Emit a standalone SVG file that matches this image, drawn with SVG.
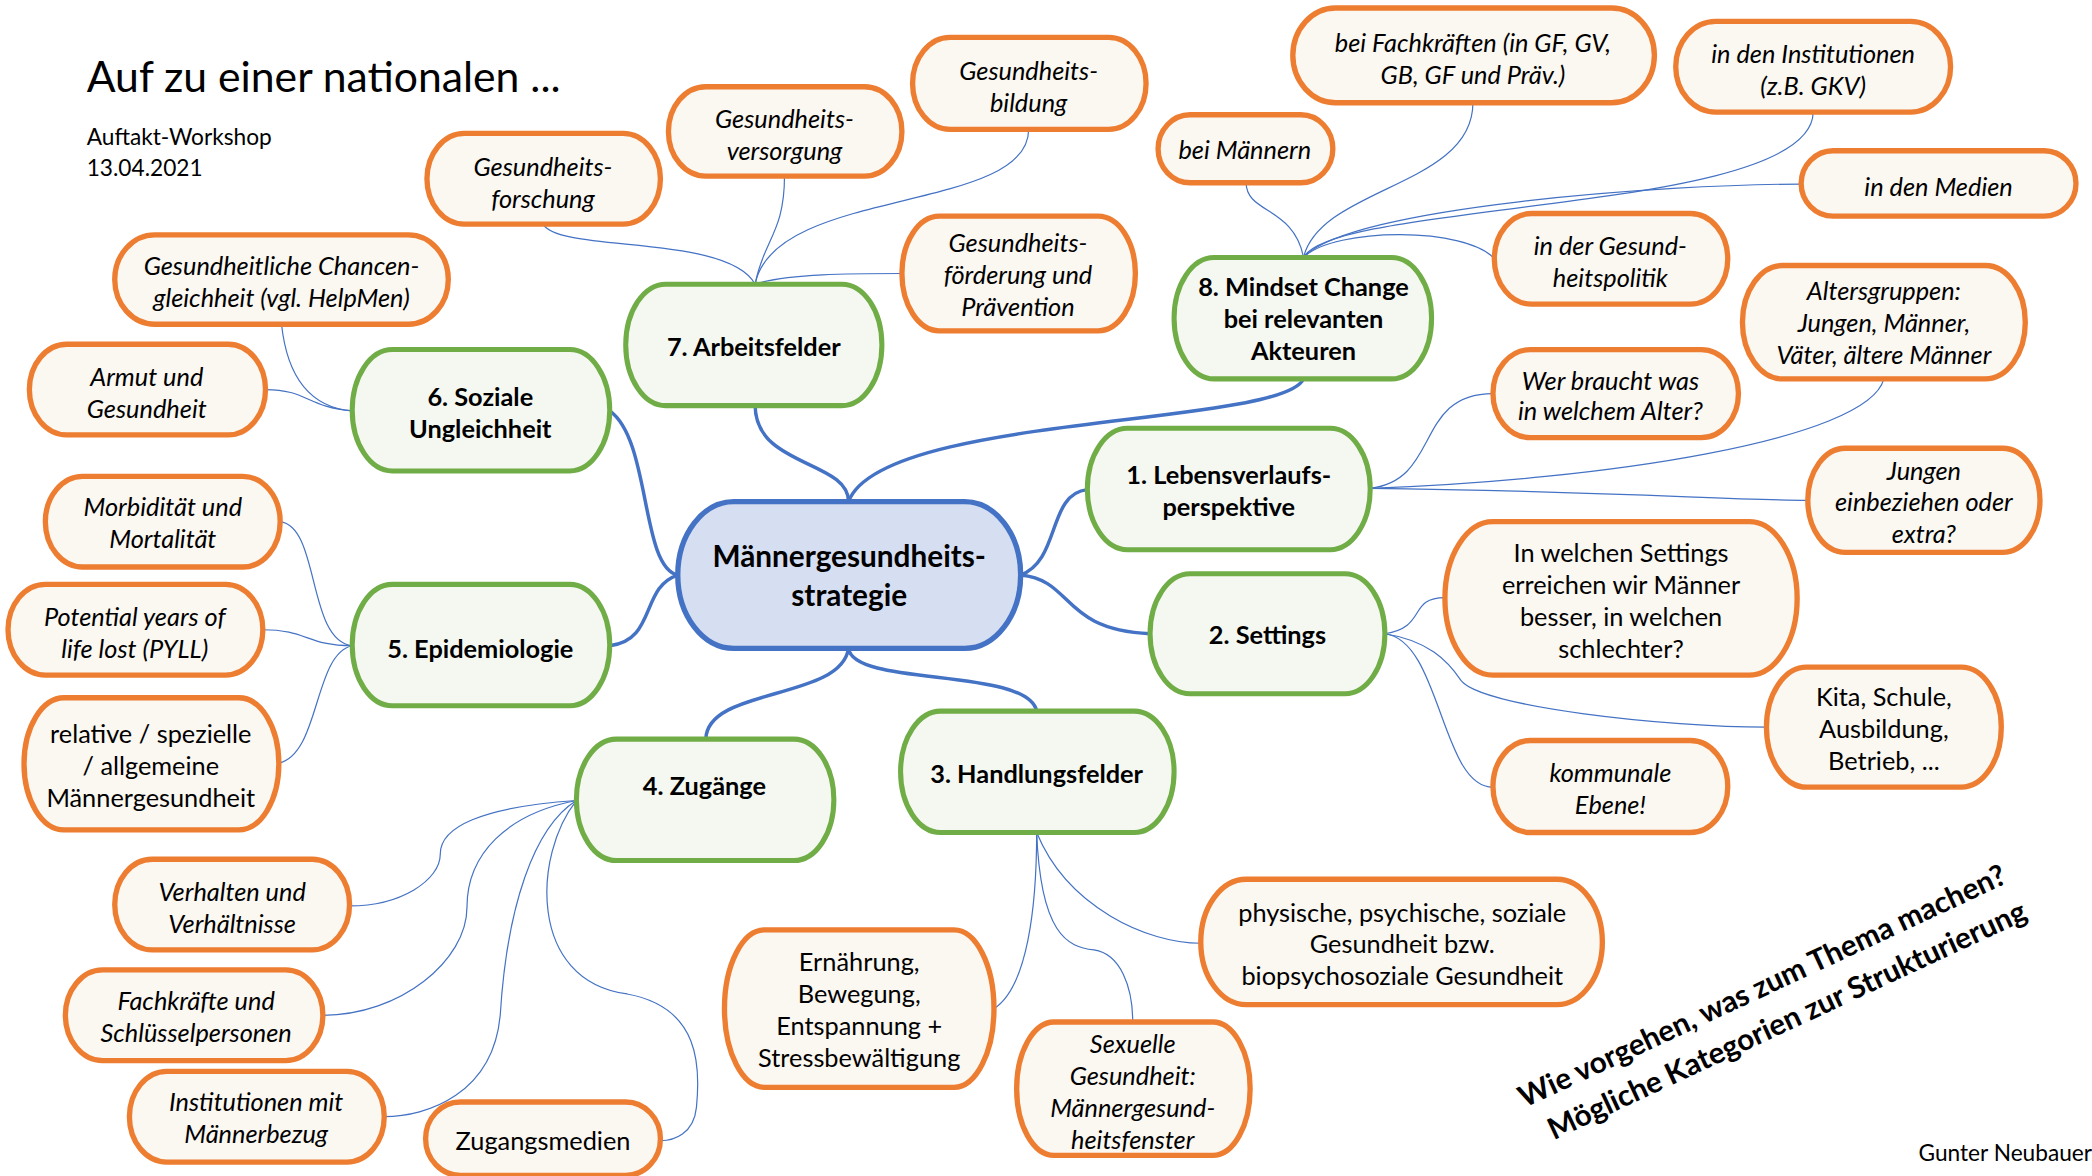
<svg xmlns="http://www.w3.org/2000/svg" width="2092" height="1176" viewBox="0 0 2092 1176">
<style>
.o{fill:#FBF7F1;stroke:#ED7D31;stroke-width:4}
.g{fill:#F5F8F1;stroke:#70AD47;stroke-width:3.8}
.c{fill:#D6DEF1;stroke:#4472C4;stroke-width:4}
.t{font-family:Lato,"Open Sans","Liberation Sans",sans-serif;fill:#000;text-anchor:middle}
.ti{font-size:19px;font-style:italic}
.tu{font-size:19px}
.tb{font-size:19px;font-weight:bold}
.thick{fill:none;stroke:#4472C4;stroke-width:2.6}
.thin{fill:none;stroke:#4472C4;stroke-width:0.9}
</style>
<rect width="2092" height="1176" fill="#fff"/>
<g transform="scale(1.334184)">
<g id="connectors">
<path class="thick" d="M636,376 C636,345 566,350 566,304"/>
<path class="thick" d="M636,376 C660,310 960,320 977,284"/>
<path class="thick" d="M508,431 C480,425 488,330 457,308"/>
<path class="thick" d="M508,431 C480,440 492,480 457,484"/>
<path class="thick" d="M765,431 C795,420 785,370 815,367"/>
<path class="thick" d="M765,431 C805,435 795,472 862,475"/>
<path class="thick" d="M636,486 C630,525 530,515 529,554"/>
<path class="thick" d="M636,486 C640,515 770,500 777,533"/>
<path class="thin" d="M566,213 C545,175 420,190 407,168"/>
<path class="thin" d="M566,213 C572,180 588,175 588,132"/>
<path class="thin" d="M566,213 C580,140 771,160 771,97"/>
<path class="thin" d="M566,213 C590,205 640,205 676,205"/>
<path class="thin" d="M977,193 C970,155 934,160 934,137"/>
<path class="thin" d="M977,193 C990,140 1104,140 1104,77"/>
<path class="thin" d="M977,193 C1000,150 1359,160 1359,84"/>
<path class="thin" d="M977,193 C1010,155 1250,138 1350,138"/>
<path class="thin" d="M977,193 C1000,170 1100,170 1120,194"/>
<path class="thin" d="M264,308 C230,305 215,280 211,243"/>
<path class="thin" d="M264,308 C230,305 230,292 199,292"/>
<path class="thin" d="M264,484 C230,480 240,395 210,391"/>
<path class="thin" d="M264,484 C230,484 230,472 197,472"/>
<path class="thin" d="M264,484 C235,490 240,565 209,572"/>
<path class="thin" d="M1027,366 C1080,360 1060,295 1119,295"/>
<path class="thin" d="M1027,366 C1200,360 1400,330 1412,284"/>
<path class="thin" d="M1027,366 C1200,368 1300,375 1355,375"/>
<path class="thin" d="M1038,475 C1070,470 1055,448 1083,448"/>
<path class="thin" d="M1038,475 C1070,480 1085,495 1095,510 C1110,530 1250,545 1324,545"/>
<path class="thin" d="M1038,475 C1080,480 1080,590 1119,590"/>
<path class="thin" d="M432,600 C360,605 330,620 330,640 C330,660 300,679 262,679"/>
<path class="thin" d="M432,600 C380,610 350,640 350,680 C350,720 300,761 242,761"/>
<path class="thin" d="M432,600 C400,620 380,680 375,760 C370,820 320,837 288,837"/>
<path class="thin" d="M432,600 C400,640 395,735 470,745 C525,755 525,800 522,830 C520,850 505,855 495,855"/>
<path class="thin" d="M777,624 C777,680 770,740 745,756"/>
<path class="thin" d="M777,624 C780,700 800,710 820,712 C840,715 849,740 849,766"/>
<path class="thin" d="M777,624 C800,680 860,707 900,707"/>
</g>

<g id="center">
<rect class="c" x="508" y="376" width="257" height="110" rx="42" ry="55"/>
<text class="t" font-size="22.3" font-weight="bold"><tspan x="636.5" y="425">Männergesundheits-</tspan><tspan x="636.5" y="454">strategie</tspan></text>
</g>

<g id="n7"><rect class="g" x="469" y="213" width="192" height="91" rx="30" ry="45.5"/><text class="t tb"><tspan x="565" y="267">7. Arbeitsfelder</tspan></text></g>
<g id="n8"><rect class="g" x="880" y="193" width="193" height="91" rx="30" ry="45.5"/><text class="t tb"><tspan x="977" y="222">8. Mindset Change</tspan><tspan x="977" y="246">bei relevanten</tspan><tspan x="977" y="270">Akteuren</tspan></text></g>
<g id="n6"><rect class="g" x="264" y="262" width="193" height="91" rx="30" ry="45.5"/><text class="t tb"><tspan x="360" y="304">6. Soziale</tspan><tspan x="360" y="328">Ungleichheit</tspan></text></g>
<g id="n1"><rect class="g" x="815" y="321" width="212" height="91" rx="30" ry="45.5"/><text class="t tb"><tspan x="921" y="363">1. Lebensverlaufs-</tspan><tspan x="921" y="387">perspektive</tspan></text></g>
<g id="n5"><rect class="g" x="264" y="438" width="193" height="91" rx="30" ry="45.5"/><text class="t tb"><tspan x="360" y="493">5. Epidemiologie</tspan></text></g>
<g id="n2"><rect class="g" x="862" y="430" width="176" height="90" rx="30" ry="45"/><text class="t tb"><tspan x="950" y="483">2. Settings</tspan></text></g>
<g id="n4"><rect class="g" x="432" y="554" width="193" height="91" rx="30" ry="45.5"/><text class="t tb"><tspan x="528" y="596">4. Zugänge</tspan></text></g>
<g id="n3"><rect class="g" x="675" y="533" width="205" height="91" rx="30" ry="45.5"/><text class="t tb"><tspan x="777" y="587">3. Handlungsfelder</tspan></text></g>

<g id="l-forschung"><rect class="o" x="320" y="100" width="175" height="68" rx="28" ry="34"/><text class="t ti"><tspan x="407" y="132">Gesundheits-</tspan><tspan x="407" y="156">forschung</tspan></text></g>
<g id="l-versorgung"><rect class="o" x="501" y="65" width="175" height="67" rx="28" ry="33.5"/><text class="t ti"><tspan x="588" y="96">Gesundheits-</tspan><tspan x="588" y="120">versorgung</tspan></text></g>
<g id="l-bildung"><rect class="o" x="684" y="28" width="175" height="69" rx="28" ry="34.5"/><text class="t ti"><tspan x="771" y="60">Gesundheits-</tspan><tspan x="771" y="84">bildung</tspan></text></g>
<g id="l-foerderung"><rect class="o" x="676" y="162" width="175" height="86" rx="28" ry="43"/><text class="t ti"><tspan x="763" y="189">Gesundheits-</tspan><tspan x="763" y="213">förderung und</tspan><tspan x="763" y="237">Prävention</tspan></text></g>
<g id="l-chancen"><rect class="o" x="86" y="176" width="250" height="67" rx="30" ry="33.5"/><text class="t ti"><tspan x="211" y="206">Gesundheitliche Chancen-</tspan><tspan x="211" y="230">gleichheit (vgl. HelpMen)</tspan></text></g>
<g id="l-armut"><rect class="o" x="22" y="258" width="177" height="68" rx="28" ry="34"/><text class="t ti"><tspan x="110" y="289">Armut und</tspan><tspan x="110" y="313">Gesundheit</tspan></text></g>
<g id="l-morb"><rect class="o" x="34" y="357" width="176" height="68" rx="28" ry="34"/><text class="t ti"><tspan x="122" y="387">Morbidität und</tspan><tspan x="122" y="411">Mortalität</tspan></text></g>
<g id="l-pyll"><rect class="o" x="6" y="438" width="191" height="68" rx="28" ry="34"/><text class="t ti"><tspan x="101" y="469">Potential years of</tspan><tspan x="101" y="493">life lost (PYLL)</tspan></text></g>
<g id="l-relative"><rect class="o" x="18" y="523" width="191" height="99" rx="30" ry="49.5"/><text class="t tu"><tspan x="113" y="557">relative / spezielle</tspan><tspan x="113" y="581">/ allgemeine</tspan><tspan x="113" y="605">Männergesundheit</tspan></text></g>
<g id="l-verhalten"><rect class="o" x="86" y="644" width="176" height="68" rx="28" ry="34"/><text class="t ti"><tspan x="174" y="675">Verhalten und</tspan><tspan x="174" y="699">Verhältnisse</tspan></text></g>
<g id="l-fachkraefte"><rect class="o" x="49" y="727" width="193" height="68" rx="28" ry="34"/><text class="t ti"><tspan x="147" y="757">Fachkräfte und</tspan><tspan x="147" y="781">Schlüsselpersonen</tspan></text></g>
<g id="l-institutionen"><rect class="o" x="97" y="803" width="191" height="68" rx="28" ry="34"/><text class="t ti"><tspan x="192" y="833">Institutionen mit</tspan><tspan x="192" y="857">Männerbezug</tspan></text></g>
<g id="l-zugangsmedien"><rect class="o" x="319" y="826" width="176" height="55" rx="26" ry="27.5"/><text class="t tu"><tspan x="407" y="862">Zugangsmedien</tspan></text></g>
<g id="l-ernaehrung"><rect class="o" x="543" y="697" width="202" height="118" rx="30" ry="59"/><text class="t tu"><tspan x="644" y="728">Ernährung,</tspan><tspan x="644" y="752">Bewegung,</tspan><tspan x="644" y="776">Entspannung +</tspan><tspan x="644" y="800">Stressbewältigung</tspan></text></g>
<g id="l-sexuelle"><rect class="o" x="762" y="766" width="175" height="100" rx="28" ry="50"/><text class="t ti"><tspan x="849" y="789">Sexuelle</tspan><tspan x="849" y="813">Gesundheit:</tspan><tspan x="849" y="837">Männergesund-</tspan><tspan x="849" y="861">heitsfenster</tspan></text></g>
<g id="l-physische"><rect class="o" x="900" y="659" width="301" height="94" rx="34" ry="47"/><text class="t tu"><tspan x="1051" y="691">physische, psychische, soziale</tspan><tspan x="1051" y="714">Gesundheit bzw.</tspan><tspan x="1051" y="738">biopsychosoziale Gesundheit</tspan></text></g>
<g id="l-kommunale"><rect class="o" x="1119" y="555" width="176" height="69" rx="28" ry="34.5"/><text class="t ti"><tspan x="1207" y="586">kommunale</tspan><tspan x="1207" y="610">Ebene!</tspan></text></g>
<g id="l-kita"><rect class="o" x="1324" y="500" width="176" height="90" rx="30" ry="45"/><text class="t tu"><tspan x="1412" y="529">Kita, Schule,</tspan><tspan x="1412" y="553">Ausbildung,</tspan><tspan x="1412" y="577">Betrieb, ...</tspan></text></g>
<g id="l-settings"><rect class="o" x="1083" y="391" width="264" height="115" rx="36" ry="57.5"/><text class="t tu"><tspan x="1215" y="421">In welchen Settings</tspan><tspan x="1215" y="445">erreichen wir Männer</tspan><tspan x="1215" y="469">besser, in welchen</tspan><tspan x="1215" y="493">schlechter?</tspan></text></g>
<g id="l-jungen"><rect class="o" x="1355" y="336" width="174" height="78" rx="28" ry="39"/><text class="t ti"><tspan x="1442" y="360">Jungen</tspan><tspan x="1442" y="383">einbeziehen oder</tspan><tspan x="1442" y="407">extra?</tspan></text></g>
<g id="l-wer"><rect class="o" x="1119" y="262" width="184" height="66" rx="28" ry="33"/><text class="t ti"><tspan x="1207" y="292">Wer braucht was</tspan><tspan x="1207" y="315">in welchem Alter?</tspan></text></g>
<g id="l-alter"><rect class="o" x="1306" y="199" width="212" height="85" rx="30" ry="42.5"/><text class="t ti"><tspan x="1412" y="225">Altersgruppen:</tspan><tspan x="1412" y="249">Jungen, Männer,</tspan><tspan x="1412" y="273">Väter, ältere Männer</tspan></text></g>
<g id="l-politik"><rect class="o" x="1120" y="160" width="175" height="68" rx="28" ry="34"/><text class="t ti"><tspan x="1207" y="191">in der Gesund-</tspan><tspan x="1207" y="215">heitspolitik</tspan></text></g>
<g id="l-medien"><rect class="o" x="1350" y="113" width="206" height="49" rx="24" ry="24.5"/><text class="t ti"><tspan x="1453" y="147">in den Medien</tspan></text></g>
<g id="l-inst"><rect class="o" x="1256" y="16" width="206" height="68" rx="30" ry="34"/><text class="t ti"><tspan x="1359" y="47">in den Institutionen</tspan><tspan x="1359" y="71">(z.B. GKV)</tspan></text></g>
<g id="l-fachkr"><rect class="o" x="969" y="6" width="271" height="71" rx="32" ry="35.5"/><text class="t ti"><tspan x="1104" y="39">bei Fachkräften (in GF, GV,</tspan><tspan x="1104" y="63">GB, GF und Präv.)</tspan></text></g>
<g id="l-maenner"><rect class="o" x="868" y="86" width="131" height="51" rx="24" ry="25.5"/><text class="t ti"><tspan x="933" y="119">bei Männern</tspan></text></g>

<g id="labels" font-family="Lato,'Open Sans','Liberation Sans',sans-serif" fill="#000">
<text x="65" y="69" font-size="32">Auf zu einer nationalen ...</text>
<text x="65" y="109" font-size="17">Auftakt-Workshop</text>
<text x="65" y="132" font-size="17">13.04.2021</text>
<text x="1438" y="870" font-size="17">Gunter Neubauer</text>
<text transform="translate(1324,746) rotate(-25)" text-anchor="middle" font-size="22.3" font-weight="bold"><tspan x="0" y="0">Wie vorgehen, was zum Thema machen?</tspan><tspan x="6" y="31">Mögliche Kategorien zur Strukturierung</tspan></text>
</g>
</g>
</svg>
